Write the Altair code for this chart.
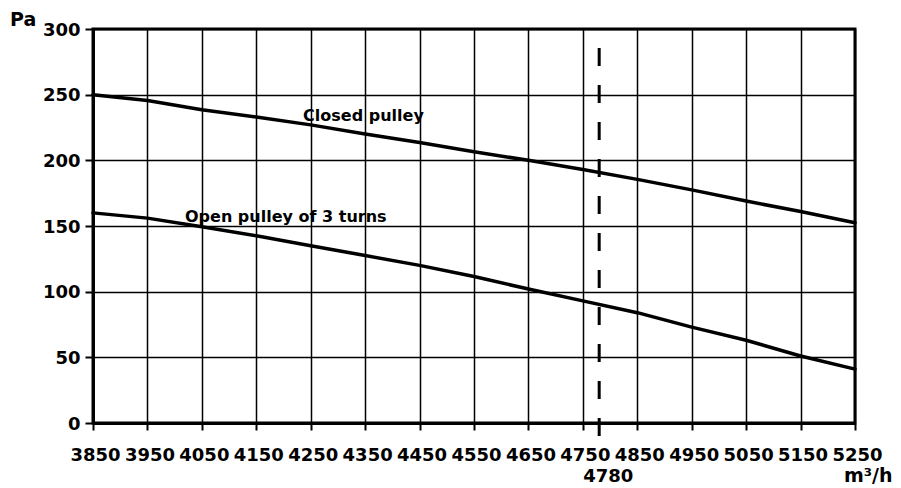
import altair as alt
import pandas as pd

# Air flow (m3/h) at each grid column
flow = [3850, 3950, 4050, 4150, 4250, 4350, 4450, 4550, 4650,
        4750, 4850, 4950, 5050, 5150, 5250]

# Available static pressure (Pa) for each pulley setting
closed_pa = [250, 245.5, 238.5, 233, 227, 220, 213.5, 206.5, 200,
             193, 185.5, 177.5, 169, 161, 152.5]
open_pa = [160, 156, 149.5, 142.5, 135, 127.5, 120, 111.5, 102,
           93, 84, 73, 63, 51, 41]

curve_names = ["Closed pulley", "Open pulley of 3 turns"]
pa_ticks = [0, 50, 100, 150, 200, 250, 300]

duty_flow = 4780

W, H = 762, 394
FONT = "DejaVu Sans"
LABEL_SIZE = 18

df = pd.DataFrame({
    "flow": flow * 2,
    "pa": closed_pa + open_pa,
    "curve": [curve_names[0]] * len(flow) + [curve_names[1]] * len(flow),
})

x_scale = alt.Scale(domain=[flow[0], flow[-1]], nice=False, zero=False)
y_scale = alt.Scale(domain=[0, 300], nice=False)

x_axis = alt.Axis(values=flow, format="d", title=None, labelOverlap=False,
                  labelFlush=False, tickSize=7, labelPadding=16, labelOffset=2)
y_axis = alt.Axis(values=pa_ticks, format="d", title=None, labelOverlap=False,
                  labelFlush=False, tickSize=8, labelPadding=5, labelOffset=1)

curves = alt.Chart(df).mark_line(
    color="black", strokeWidth=3.5, strokeJoin="round", strokeCap="round"
).encode(
    x=alt.X("flow:Q", scale=x_scale, axis=x_axis),
    y=alt.Y("pa:Q", scale=y_scale, axis=y_axis),
    detail="curve:N",
)

duty = pd.DataFrame({"flow": [duty_flow], "label": [str(duty_flow)]})

duty_rule = alt.Chart(duty).mark_rule(
    color="black", strokeWidth=3, strokeDash=[18, 19]
).encode(
    x=alt.X("flow:Q", scale=x_scale),
    y=alt.value(19),
    y2=alt.value(407),
)

duty_label = alt.Chart(duty).mark_text(
    font=FONT, fontSize=LABEL_SIZE, fontWeight="bold", color="black",
    baseline="alphabetic", align="center", dx=9
).encode(
    x=alt.X("flow:Q", scale=x_scale),
    y=alt.value(H + 59),
    text="label:N",
)

# Curve names written along each curve
names = pd.DataFrame({
    "flow": [4236, 4019],
    "pa": [230, 153.4],
    "name": curve_names,
})
curve_labels = alt.Chart(names).mark_text(
    font=FONT, fontSize=16, fontWeight="bold", color="black",
    align="left", baseline="alphabetic"
).encode(
    x=alt.X("flow:Q", scale=x_scale),
    y=alt.Y("pa:Q", scale=y_scale),
    text="name:N",
)

units = pd.DataFrame({"txt": ["Pa", "m³/h"], "px": [-83, 751], "py": [-3, H + 59]})
unit_labels = alt.Chart(units).mark_text(
    font=FONT, fontSize=19, fontWeight="bold", color="black",
    align="left", baseline="alphabetic"
).encode(
    x=alt.X("px:Q", scale=None),
    y=alt.Y("py:Q", scale=None),
    text="txt:N",
)

chart = alt.layer(
    curves, duty_rule, curve_labels, duty_label, unit_labels
).properties(
    width=W,
    height=H,
    autosize=alt.AutoSizeParams(type="none"),
    padding={"left": 93, "top": 29, "right": 46, "bottom": 65},
    background="white",
).configure_view(
    stroke="black", strokeWidth=3
).configure_axis(
    grid=True, gridColor="black", gridWidth=1.5, gridOpacity=1,
    domainColor="black", domainWidth=3,
    tickColor="black", tickWidth=2,
    labelFont=FONT, labelFontSize=LABEL_SIZE, labelFontWeight="bold",
    labelColor="black",
)

chart.save("out.html", embed_options={"renderer": "svg", "actions": False})
